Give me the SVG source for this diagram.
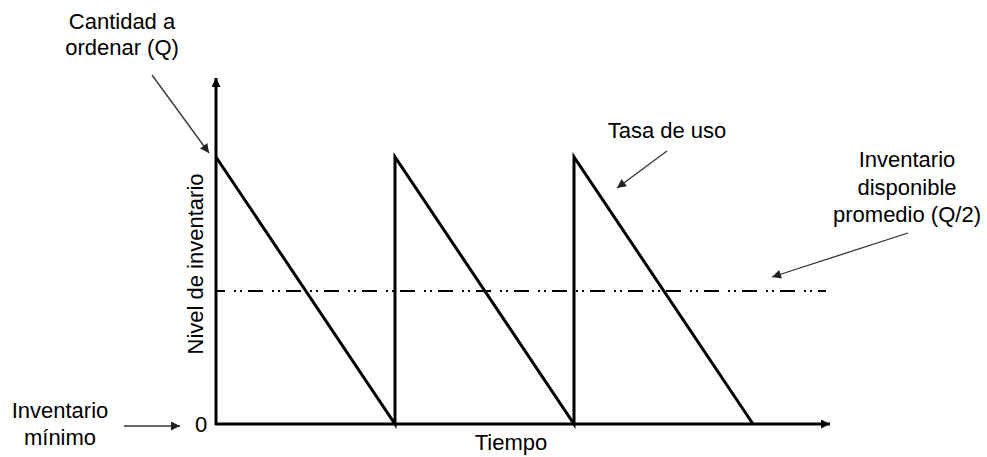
<svg xmlns="http://www.w3.org/2000/svg" width="987" height="457" viewBox="0 0 987 457">
<style>
text{font-family:"Liberation Sans",Arial,sans-serif;font-size:22px;fill:#000;text-anchor:middle}
.axis{stroke:#000;stroke-width:3;fill:none}
.saw{stroke:#000;stroke-width:3;fill:none;stroke-linejoin:miter}
.avg{stroke:#000;stroke-width:2;fill:none;stroke-dasharray:15 9 2 4 2 6;stroke-dashoffset:6}
.pointer{stroke:#333;stroke-width:1.3;fill:none}
</style>
<defs>
<marker id="ah" viewBox="0 0 10 10" refX="10" refY="5" markerWidth="10" markerHeight="9" markerUnits="userSpaceOnUse" orient="auto">
<path d="M0,0 L10,5 L0,10 z" fill="#000"/>
</marker>
<marker id="ahs" viewBox="0 0 10 10" refX="10" refY="5" markerWidth="11" markerHeight="9" markerUnits="userSpaceOnUse" orient="auto">
<path d="M0,0 L10,5 L0,10 z" fill="#222"/>
</marker>
</defs>
<g id="axes">
<line class="axis" x1="216" y1="425" x2="216" y2="78" marker-end="url(#ah)"/>
<line class="axis" x1="215" y1="424" x2="830" y2="424" marker-end="url(#ah)"/>
</g>
<g id="sawtooth">
<polyline class="saw" points="216,157 395,424 395,157 574,424 574,157 753,424"/>
</g>
<g id="average-line">
<line class="avg" x1="216" y1="291" x2="826" y2="291"/>
</g>
<g id="connectors">
<line class="pointer" x1="152" y1="75" x2="209" y2="153" marker-end="url(#ahs)"/>
<line class="pointer" x1="124" y1="426" x2="180" y2="426" marker-end="url(#ahs)"/>
<line class="pointer" x1="667" y1="151" x2="617" y2="188" marker-end="url(#ahs)"/>
<line class="pointer" x1="908" y1="233" x2="772" y2="277" marker-end="url(#ahs)"/>
</g>
<g id="label-cantidad">
<text x="122" y="29">Cantidad a</text>
<text x="122" y="55">ordenar (Q)</text>
</g>
<g id="label-nivel">
<text transform="translate(203,264) rotate(-90)" x="0" y="0">Nivel de inventario</text>
</g>
<g id="label-cero">
<text x="201" y="432">0</text>
</g>
<g id="label-minimo">
<text x="60" y="418">Inventario</text>
<text x="60" y="445">mínimo</text>
</g>
<g id="label-tiempo">
<text x="511" y="450">Tiempo</text>
</g>
<g id="label-tasa">
<text x="667" y="138">Tasa de uso</text>
</g>
<g id="label-promedio">
<text x="907" y="167">Inventario</text>
<text x="907" y="195">disponible</text>
<text x="907" y="222">promedio (Q/2)</text>
</g>
</svg>
